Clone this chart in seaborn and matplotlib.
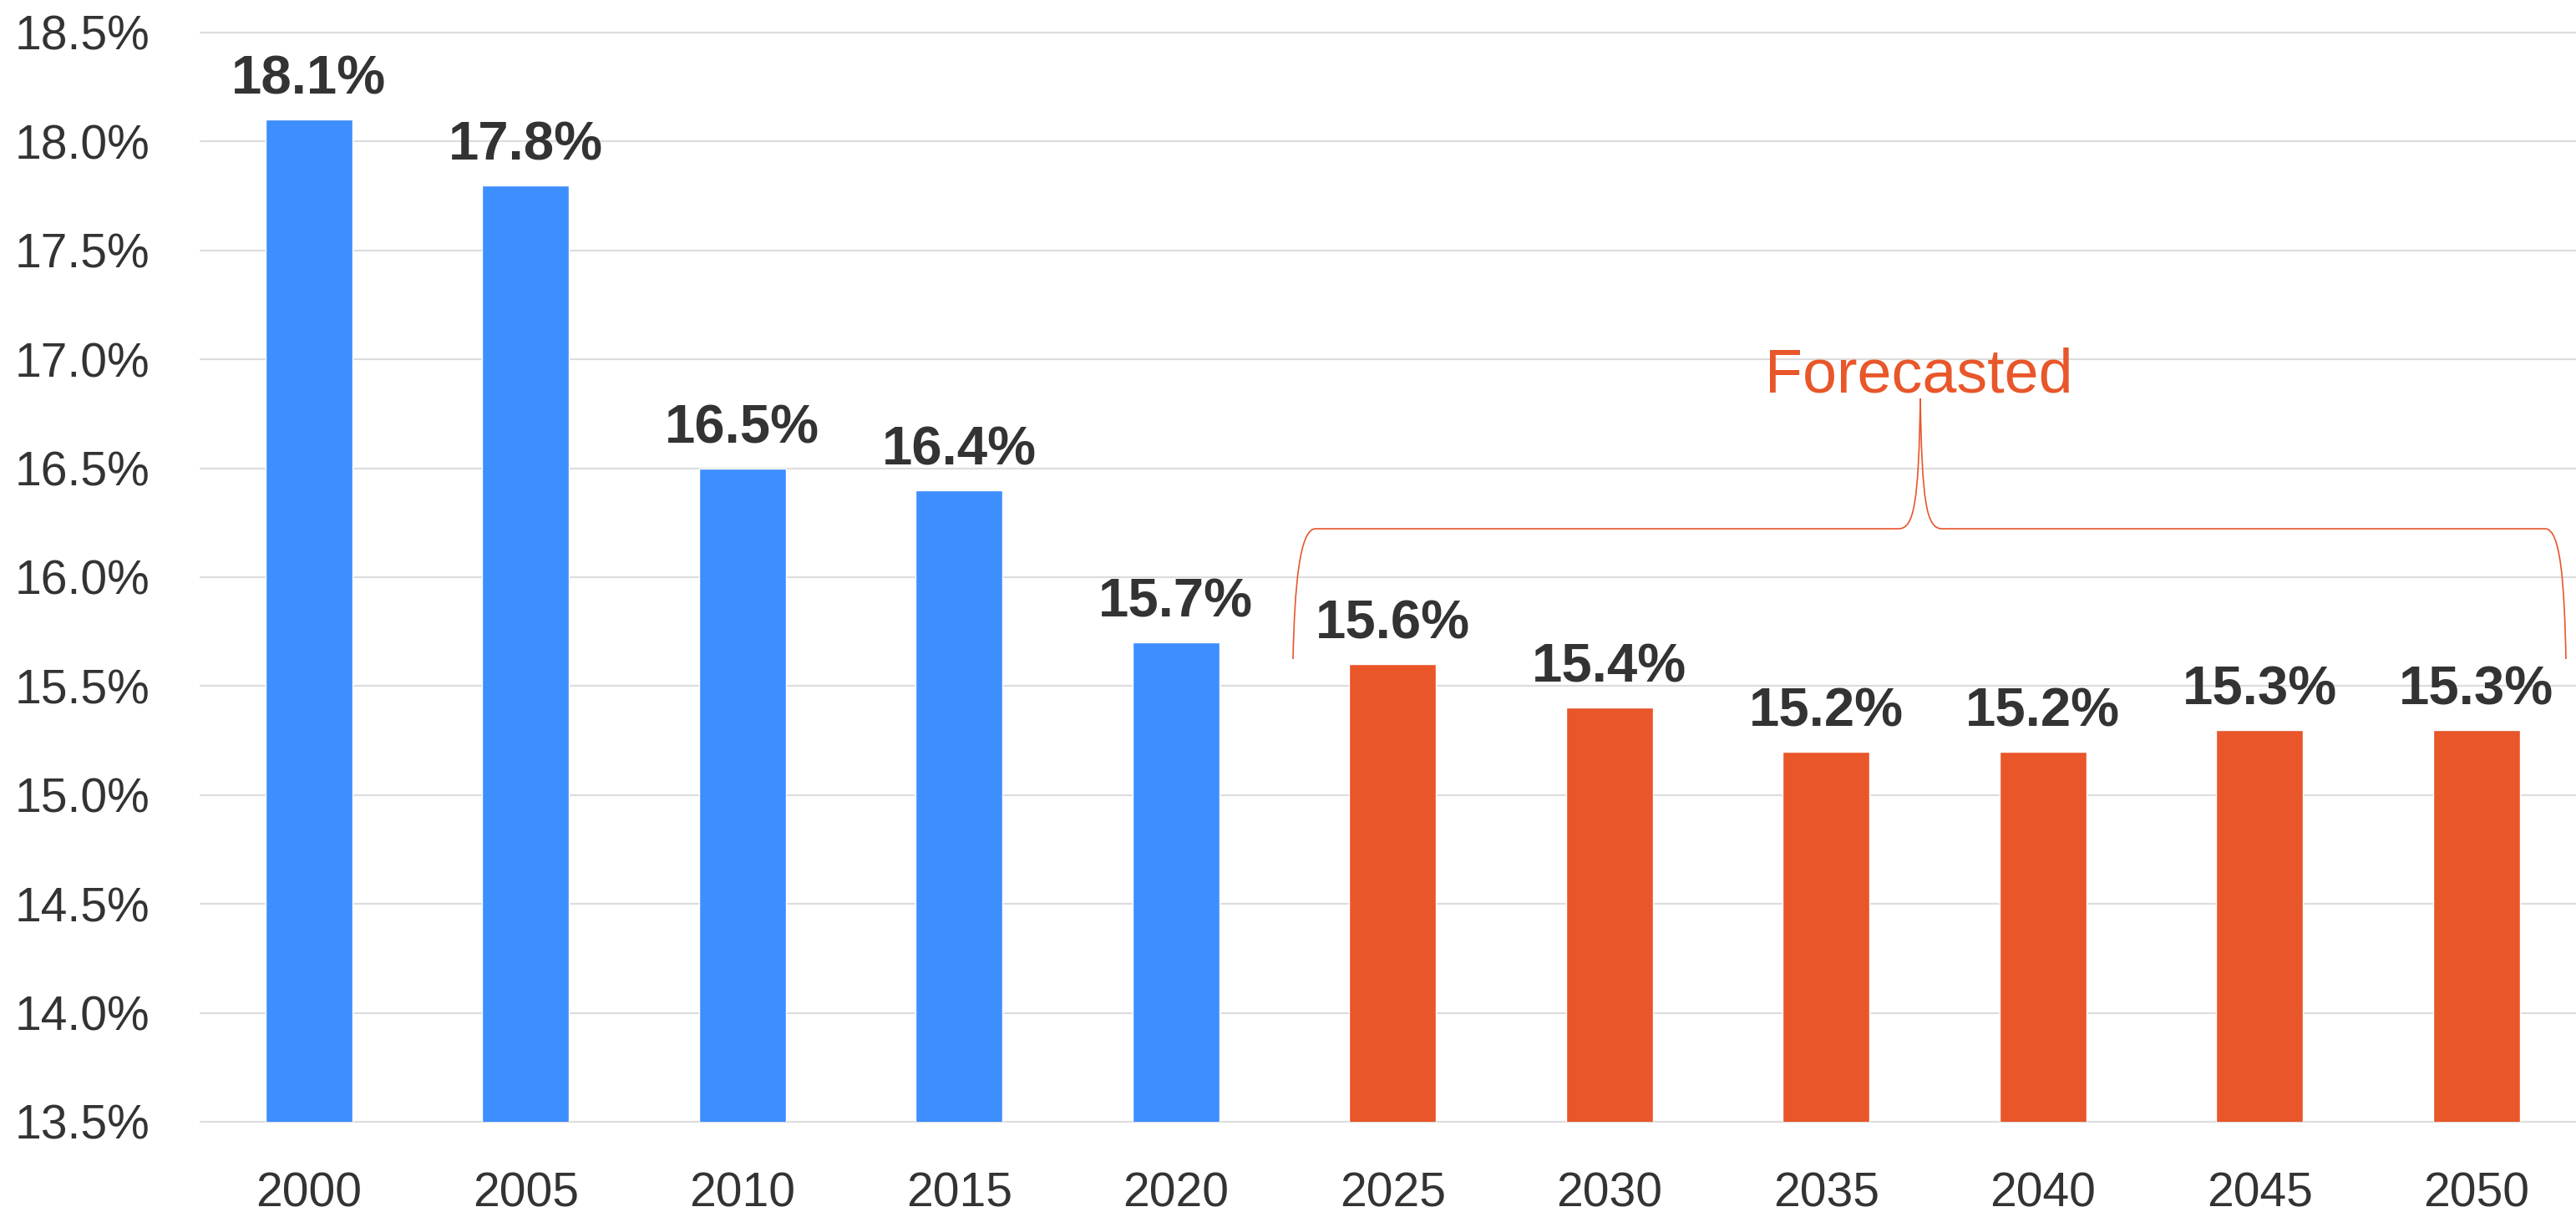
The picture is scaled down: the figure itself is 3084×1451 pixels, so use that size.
import matplotlib
matplotlib.use("Agg")
import matplotlib.pyplot as plt
from matplotlib import font_manager
from matplotlib.path import Path
from matplotlib.patches import PathPatch
import numpy as np
import pandas as pd
import seaborn as sns

# ---- data ----
years = ["2000", "2005", "2010", "2015", "2020", "2025", "2030", "2035", "2040", "2045", "2050"]
values = [18.1, 17.8, 16.5, 16.4, 15.7, 15.6, 15.4, 15.2, 15.2, 15.3, 15.3]
periods = ["Actual"] * 5 + ["Forecasted"] * 6
y_ticks = [13.5, 14.0, 14.5, 15.0, 15.5, 16.0, 16.5, 17.0, 17.5, 18.0, 18.5]
annotation_text = "Forecasted"

BLUE = "#3D8EFF"
ORANGE = "#E8562A"
TEXT = "#333333"
GRID = "#DDDDDD"

sns.set_theme(style="white")
names = {f.name for f in font_manager.fontManager.ttflist}
family = "Liberation Sans Narrow" if "Liberation Sans Narrow" in names else "Liberation Sans"
plt.rcParams["font.family"] = [family, "DejaVu Sans"]

df = pd.DataFrame({"year": years, "value": values, "period": periods})

W, H = 3084, 1451
fig = plt.figure(figsize=(W / 100, H / 100), dpi=100)
left, right, top, bottom = 240, W, 39, 1343
ax = fig.add_axes([left / W, (H - bottom) / H, (right - left) / W, (bottom - top) / H])

sns.barplot(data=df, x="year", y="value", hue="period", order=years,
            hue_order=["Actual", "Forecasted"], palette=[BLUE, ORANGE],
            dodge=False, width=0.40, saturation=1, legend=False, ax=ax,
            zorder=3)

XMIN, XMAX, YMIN, YMAX = -0.5, 10.46, 13.5, 18.5
ax.set_xlim(XMIN, XMAX)
ax.set_ylim(YMIN, YMAX)
ax.set_yticks(y_ticks)
ax.set_yticklabels([f"{t:.1f}%" for t in y_ticks])
ax.grid(axis="y", color=GRID, linewidth=1.6, zorder=0)
for gl in ax.get_ygridlines():
    gl.set_clip_on(False)
ax.set_axisbelow(True)
for s in ax.spines.values():
    s.set_visible(False)
ax.set_xlabel("")
ax.set_ylabel("")
ax.tick_params(axis="y", length=0, pad=44, labelsize=41, labelcolor=TEXT)
ax.tick_params(axis="x", length=0, pad=43, labelsize=41, labelcolor=TEXT)

# value labels
for i, v in enumerate(values):
    ax.annotate(f"{v:.1f}%", xy=(i, v), xytext=(0, 22), textcoords="offset points",
                ha="center", va="baseline", fontsize=47, fontweight="bold",
                color=TEXT, zorder=5)

# brace over forecast bars (layout given in figure pixels, converted to data)
def px2x(px):
    return XMIN + (px - left) / (right - left) * (XMAX - XMIN)

def py2y(py):
    return YMAX - (py - top) / (bottom - top) * (YMAX - YMIN)

brace_px = [
    (1548, 789),
    (1550, 700), (1556, 633), (1575, 633),
    (2273, 633),
    (2292, 633), (2297, 600), (2299, 477),
    (2301, 600), (2306, 633), (2325, 633),
    (3047, 633),
    (3066, 633), (3070, 700), (3072, 789),
]
verts = [(px2x(a), py2y(b)) for a, b in brace_px]
codes = [Path.MOVETO,
         Path.CURVE4, Path.CURVE4, Path.CURVE4,
         Path.LINETO,
         Path.CURVE4, Path.CURVE4, Path.CURVE4,
         Path.CURVE4, Path.CURVE4, Path.CURVE4,
         Path.LINETO,
         Path.CURVE4, Path.CURVE4, Path.CURVE4]
ax.add_patch(PathPatch(Path(verts, codes), facecolor="none", edgecolor=ORANGE,
                       linewidth=1.2, clip_on=False, zorder=4))
ax.text(px2x(2297), py2y(470), annotation_text, ha="center", va="baseline",
        fontsize=53, color=ORANGE, zorder=5)

fig.savefig("out.png", dpi=100, facecolor="white")
